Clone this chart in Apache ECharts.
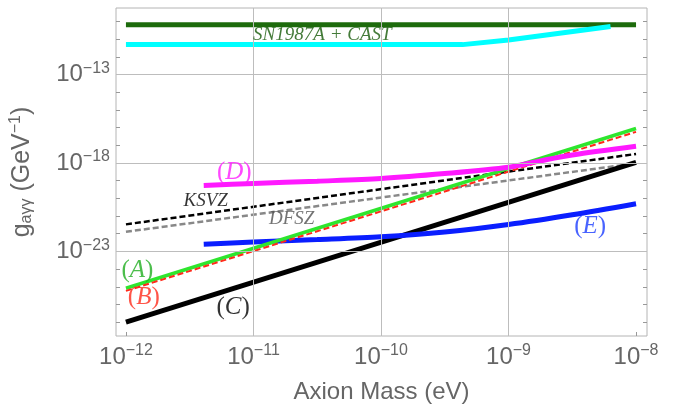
<!DOCTYPE html>
<html>
<head>
<meta charset="utf-8">
<script src="https://cdn.jsdelivr.net/npm/echarts@6/dist/echarts.min.js"></script>
<style>
  html, body { margin: 0; padding: 0; background: #fff; }
  #chart { width: 675px; height: 409px; }
</style>
</head>
<body>
<div id="chart"></div>
<script>
// all values are log10 (mass in eV, coupling in GeV^-1)
const xTicks = [-12, -11, -10, -9, -8];
const yLabelTicks = [-23, -18, -13];
const yMinorTicks = [-27, -26, -25, -24, -23, -22, -21, -20, -19, -18, -17, -16, -15, -14, -13, -12, -11, -10];
const xGrid = [-11, -10, -9];
const yGrid = [-23, -18, -13];

const massSN = [-12, -8];
const gSN = [-10.19, -10.19];
const massCAST = [-12, -9.36, -9, -8.2];
const gCAST = [-11.31, -11.31, -11.05, -10.29];
const massD = [-11.39, -11, -10.5, -10, -9.5, -9, -8.75, -8.5, -8];
const gD = [-19.27, -19.16, -19.03, -18.88, -18.6, -18.24, -17.88, -17.55, -17.06];
const massKSVZ = [-12, -8];
const gKSVZ = [-21.47, -17.49];
const massDFSZ = [-12, -8];
const gDFSZ = [-21.89, -18.02];
const massA = [-12, -8];
const gA = [-25.08, -16.05];
const massB = [-12, -8];
const gB = [-25.23, -16.24];
const massC = [-12, -8];
const gC = [-26.99, -17.96];
const massE = [-11.39, -11, -10.5, -10, -9.5, -9, -8.5, -8];
const gE = [-22.59, -22.47, -22.33, -22.17, -21.9, -21.48, -20.93, -20.3];

// in-plot annotations
const noteText = ['SN1987A + CAST', '(D)', 'KSVZ', 'DFSZ', '(A)', '(B)', '(C)', '(E)'];
const noteX = [-10.46, -11.15, -11.375, -10.7, -11.91, -11.86, -11.16, -8.36];
const noteY = [-10.75, -18.51, -20.13, -21.15, -24.07, -25.58, -26.15, -21.6];
const noteColor = ['#155a08', '#ff1aff', '#000000', '#505050', '#1fae1f', '#ff2a1a', '#000000', '#1a3cff'];
const noteSize = [19, 25, 19, 19, 25, 25, 25, 25];

const X_MIN = -12.078, X_MAX = -7.914;
const Y_MIN = -27.78, Y_MAX = -9.24;

const labelColor = '#666';
const sans = 'Liberation Sans';
const serif = 'Liberation Serif';

function zip(xs, ys) { return xs.map((x, i) => [x, ys[i]]); }

function powLabel(v) { return '{b|10}{s|' + (v < 0 ? '\u2212' : '') + Math.abs(v) + '}'; }
const powRich = {
  b: { fontSize: 24, color: labelColor, fontFamily: sans },
  s: { fontSize: 16, color: labelColor, fontFamily: sans, padding: [0, 0, 12, 0] }
};

function line(name, xs, ys, color, width, dashed, smooth) {
  return {
    name: name, type: 'line', data: zip(xs, ys), showSymbol: false, symbol: 'none',
    smooth: smooth ? 0.3 : false, z: 3,
    lineStyle: { color: color, width: width, type: dashed ? [6, 3] : 'solid', cap: 'butt' }
  };
}

function noteFormatter(t) {
  const m = /^\((.)\)$/.exec(t);
  if (m) return '{p|(}{i|' + m[1] + '}{p|)}';
  return '{i|' + t + '}';
}

const noteSeries = noteText.map((t, i) => ({
  type: 'scatter', z: 5, silent: true,
  data: [[noteX[i], noteY[i]]],
  symbolSize: 1, itemStyle: { color: 'transparent' },
  label: {
    show: true, position: 'inside', formatter: noteFormatter(t),
    rich: {
      p: { fontFamily: serif, fontSize: noteSize[i], color: noteColor[i] },
      i: { fontFamily: serif, fontStyle: 'italic', fontSize: noteSize[i], color: noteColor[i] }
    }
  }
}));

const gridMarks = xGrid.map(v => ({ xAxis: v })).concat(yGrid.map(v => ({ yAxis: v })));

const chart = echarts.init(document.getElementById('chart'), null, { renderer: 'canvas' });
chart.setOption({
  animation: false,
  backgroundColor: '#fff',
  grid: { left: 114, right: 28, top: 8, bottom: 71, show: true, borderColor: '#b4b4b4', borderWidth: 1 },
  xAxis: {
    type: 'value', min: X_MIN, max: X_MAX,
    name: 'Axion Mass (eV)', nameLocation: 'middle', nameGap: 44,
    nameTextStyle: { fontSize: 24, color: labelColor, fontFamily: sans },
    axisLine: { show: false },
    axisTick: { show: true, inside: true, length: 4, customValues: xTicks, lineStyle: { color: '#999' } },
    axisLabel: { customValues: xTicks, margin: 7, formatter: powLabel, rich: powRich },
    splitLine: { show: false }
  },
  yAxis: [{
    type: 'value', min: Y_MIN, max: Y_MAX, position: 'left',
    name: '{g|g}{sub|a\u03b3\u03b3}{t| (GeV}{sup|\u22121}{t|)}',
    nameLocation: 'middle', nameGap: 80, nameRotate: 90,
    nameTextStyle: {
      color: labelColor,
      rich: {
        g: { fontSize: 25, color: labelColor, fontFamily: sans },
        sub: { fontSize: 16, color: labelColor, fontFamily: sans, padding: [10, 0, 0, 0] },
        t: { fontSize: 25, color: labelColor, fontFamily: sans },
        sup: { fontSize: 16, color: labelColor, fontFamily: sans, padding: [0, 0, 12, 0] }
      }
    },
    axisLine: { show: false },
    axisTick: { show: true, inside: true, length: 4, customValues: yMinorTicks, lineStyle: { color: '#999' } },
    axisLabel: { customValues: yLabelTicks, margin: 6, formatter: powLabel, rich: powRich },
    splitLine: { show: false }
  }, {
    type: 'value', min: Y_MIN, max: Y_MAX, position: 'right',
    axisLine: { show: false },
    axisTick: { show: true, inside: true, length: 4, customValues: yMinorTicks, lineStyle: { color: '#999' } },
    axisLabel: { show: false },
    splitLine: { show: false }
  }],
  series: [
    {
      type: 'line', data: [], z: 1, silent: true,
      markLine: {
        silent: true, symbol: ['none', 'none'], label: { show: false },
        lineStyle: { color: '#bdbdbd', width: 1, type: 'solid' },
        emphasis: { disabled: true },
        data: gridMarks
      }
    },
    line('SN1987A', massSN, gSN, '#1d6b0c', 5),
    line('CAST', massCAST, gCAST, '#00ffff', 5),
    line('KSVZ', massKSVZ, gKSVZ, '#000000', 2.5, true),
    line('DFSZ', massDFSZ, gDFSZ, '#888888', 2.5, true),
    line('C', massC, gC, '#000000', 5),
    line('E', massE, gE, '#0a1eff', 5, false, true),
    line('A', massA, gA, '#2ee62e', 3.5),
    line('B', massB, gB, '#ff2a1a', 2, true),
    line('D', massD, gD, '#ff19ff', 5, false, true)
  ].concat(noteSeries)
});
</script>
</body>
</html>
